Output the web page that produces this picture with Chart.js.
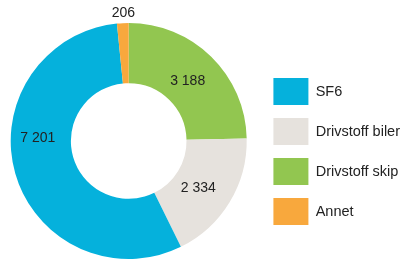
<!DOCTYPE html>
<html>
<head>
<meta charset="utf-8">
<script src="https://cdn.jsdelivr.net/npm/chart.js@4/dist/chart.umd.min.js"></script>
<style>
	body { margin: 0; background: #fff; }
	canvas { display: block; }
</style>
</head>
<body>
<canvas id="utslipp" width="403" height="261"></canvas>
<script>
// slices clockwise from 12 o'clock
var categories = [ 'Drivstoff skip', 'Drivstoff biler', 'SF6', 'Annet' ];
var values = [ 3188, 2334, 7201, 206 ];
var legendOrder = [ 'SF6', 'Drivstoff biler', 'Drivstoff skip', 'Annet' ];

var colors = [ '#92c650', '#e6e2dd', '#05b1dc', '#f8a83d' ];
// value label placement: extra turn (degrees) and place across the ring (0 inner, 1 outer)
var labelTurn = [ 0, 3, 18, 0.5 ];
var labelRing = [ 0.44, 0.44, 0.55, 1.17 ];

function fmt( n ) {
	return String( n ).replace( /\B(?=(\d{3})+(?!\d))/g, ' ' );
}

var valueLabels = {
	id: 'valueLabels',
	afterDatasetsDraw: function ( chart ) {
		var ctx = chart.ctx;
		var meta = chart.getDatasetMeta( 0 );
		ctx.save();
		ctx.font = '14px "Liberation Sans", Arial, sans-serif';
		ctx.fillStyle = '#222';
		ctx.textAlign = 'center';
		ctx.textBaseline = 'middle';
		meta.data.forEach( function ( arc, i ) {
			var p = arc.getProps( [ 'x', 'y', 'startAngle', 'endAngle', 'innerRadius', 'outerRadius' ], true );
			var a = ( p.startAngle + p.endAngle ) / 2 + labelTurn[i] * Math.PI / 180;
			var r = p.innerRadius + labelRing[i] * ( p.outerRadius - p.innerRadius );
			ctx.fillText( fmt( values[i] ), p.x + r * Math.cos( a ), p.y + r * Math.sin( a ) );
		} );
		ctx.restore();
	}
};

// nudge the legend block to where it sits in the original
var legendShift = {
	id: 'legendShift',
	afterLayout: function ( chart ) {
		var lg = chart.legend;
		lg.left += 7; lg.right += 7;
		lg.top += 10.5; lg.bottom += 10.5;
	}
};

var ctx = document.getElementById( 'utslipp' ).getContext( '2d' );
var myChart = new Chart( ctx, {
	type: 'doughnut',
	data: {
		labels: categories,
		datasets: [
			{
				data: values,
				backgroundColor: colors,
				borderWidth: 0
			}
		]
	},
	options: {
		responsive: false,
		animation: false,
		cutout: '49%',
		layout: { padding: { left: 4, top: 23, bottom: 2, right: 0 } },
		plugins: {
			tooltip: { enabled: false },
			legend: {
				position: 'right',
				labels: {
					boxWidth: 35,
					boxHeight: 27,
					padding: 13,
					color: '#222',
					font: { family: '"Liberation Sans", Arial, sans-serif', size: 14.5 },
					sort: function ( a, b ) {
						return legendOrder.indexOf( a.text ) - legendOrder.indexOf( b.text );
					}
				}
			}
		}
	},
	plugins: [ valueLabels, legendShift ]
} );
</script>
</body>
</html>
